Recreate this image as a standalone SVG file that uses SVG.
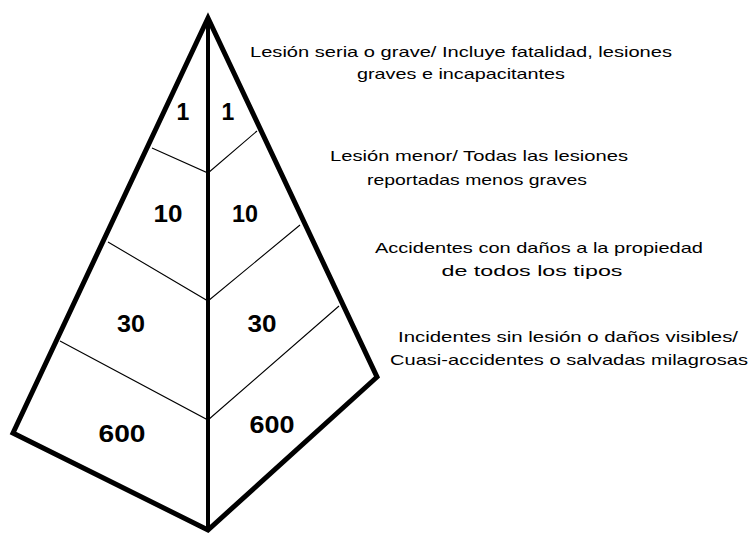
<svg xmlns="http://www.w3.org/2000/svg" width="751" height="534" viewBox="0 0 751 534">
<style>
.edge{fill:none;stroke:#000;stroke-width:5;stroke-linejoin:miter;stroke-linecap:round}
.axis{stroke:#000;stroke-width:4}
.band{stroke:#000;stroke-width:1.1;fill:none}
.num{font-family:"Liberation Sans",Arial,sans-serif;font-weight:bold;font-size:23px;text-anchor:middle;fill:#000}
.lbl{font-family:"Liberation Sans",Arial,sans-serif;font-size:15px;text-anchor:middle;fill:#000}
</style>
<rect width="751" height="534" fill="#fff"/>
<g id="pyramid">
<polygon class="edge" points="208,18 13,433 208,530 377,377"/>
<line class="axis" x1="208" y1="18" x2="208" y2="530"/>
</g>
<g id="connectors">
<polyline class="band" points="152,148 208,173 257,131"/>
<polyline class="band" points="108,242 208,301 300,225"/>
<polyline class="band" points="60,341 208,420 339,306"/>
</g>
<g id="level1">
<text class="num" x="183" y="120">1</text>
<text class="num" x="228" y="120">1</text>
<text class="lbl" x="461" y="57" textLength="422" lengthAdjust="spacingAndGlyphs">Lesión seria o grave/ Incluye fatalidad, lesiones</text>
<text class="lbl" x="461" y="79" textLength="208" lengthAdjust="spacingAndGlyphs">graves e incapacitantes</text>
</g>
<g id="level2">
<text class="num" x="168" y="222" textLength="29" lengthAdjust="spacingAndGlyphs">10</text>
<text class="num" x="245" y="222" textLength="26" lengthAdjust="spacingAndGlyphs">10</text>
<text class="lbl" x="479" y="161" textLength="298" lengthAdjust="spacingAndGlyphs">Lesión menor/ Todas las lesiones</text>
<text class="lbl" x="477" y="185" textLength="220" lengthAdjust="spacingAndGlyphs">reportadas menos graves</text>
</g>
<g id="level3">
<text class="num" x="131" y="332" textLength="28" lengthAdjust="spacingAndGlyphs">30</text>
<text class="num" x="262" y="332" textLength="29" lengthAdjust="spacingAndGlyphs">30</text>
<text class="lbl" x="539" y="253" textLength="328" lengthAdjust="spacingAndGlyphs">Accidentes con daños a la propiedad</text>
<text class="lbl" x="532" y="276" textLength="181" lengthAdjust="spacingAndGlyphs">de todos los tipos</text>
</g>
<g id="level4">
<text class="num" x="122" y="442" textLength="47" lengthAdjust="spacingAndGlyphs">600</text>
<text class="num" x="272" y="433" textLength="45" lengthAdjust="spacingAndGlyphs">600</text>
<text class="lbl" x="568" y="342" textLength="340" lengthAdjust="spacingAndGlyphs">Incidentes sin lesión o daños visibles/</text>
<text class="lbl" x="569" y="365" textLength="358" lengthAdjust="spacingAndGlyphs">Cuasi-accidentes o salvadas milagrosas</text>
</g>
</svg>
